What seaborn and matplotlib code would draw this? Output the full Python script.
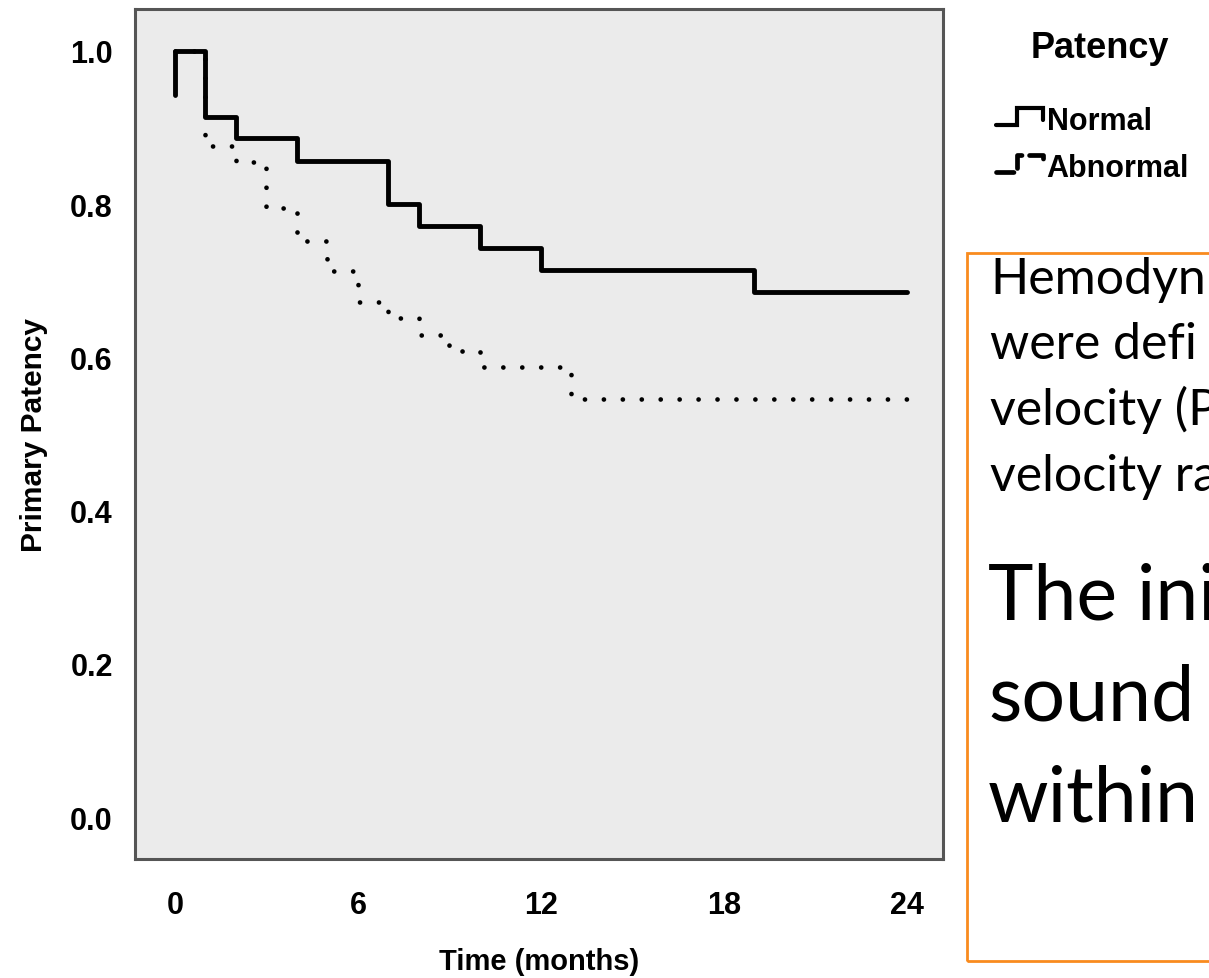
import numpy as np
import pandas as pd
import matplotlib
matplotlib.use("Agg")
import matplotlib.pyplot as plt
import seaborn as sns
from matplotlib.legend_handler import HandlerBase
from matplotlib.lines import Line2D
from matplotlib.patches import Rectangle

# Kaplan-Meier step values
normal_time = [0, 0, 1, 2, 4, 7, 8, 10, 12, 19, 24]
normal_surv = [0.943, 1.0, 0.914, 0.886, 0.857, 0.800, 0.771, 0.743, 0.714, 0.686, 0.686]

abnormal_time = [0, 1, 2, 3, 4, 5, 6, 7, 8, 9, 10, 13, 24]
abnormal_surv = [1.0, 0.876, 0.855, 0.795, 0.752, 0.713, 0.672, 0.651, 0.629, 0.608, 0.587, 0.546, 0.546]

x_ticks = [0, 6, 12, 18, 24]
y_ticks = [0.0, 0.2, 0.4, 0.6, 0.8, 1.0]
group_labels = ["Normal", "Abnormal"]

# only the part of the slide text that is visible (the rest runs off the slide)
box_lines_small = ["Hemodyn", "were defi", "velocity (P", "velocity ra"]
box_lines_big = ["The ini", "sound", "within"]

df_normal = pd.DataFrame({"time": normal_time, "surv": normal_surv})
df_abnormal = pd.DataFrame({"time": abnormal_time, "surv": abnormal_surv})

sns.set_style("white")
plt.rcParams["font.family"] = ["Liberation Sans", "DejaVu Sans"]
plt.rcParams["text.color"] = "black"
plt.rcParams["axes.labelcolor"] = "black"
plt.rcParams["xtick.color"] = "black"
plt.rcParams["ytick.color"] = "black"

W, H = 1209, 979
fig = plt.figure(figsize=(W / 100, H / 100), dpi=100)
ax = fig.add_axes([135 / W, 1 - 860 / H, (943 - 135) / W, (860 - 10) / H])
ax.set_facecolor("#EBEBEB")

dot_style = (0, (0.01, 4.0))
sns.lineplot(data=df_abnormal, x="time", y="surv", ax=ax, estimator=None, sort=False,
             drawstyle="steps-post", color="black", lw=3.4, linestyle=dot_style,
             dash_capstyle="round", zorder=2)
sns.lineplot(data=df_normal, x="time", y="surv", ax=ax, estimator=None, sort=False,
             drawstyle="steps-post", color="black", lw=3.5, zorder=3)

ax.set_xlim(-1.31, 25.18)
ax.set_ylim(-0.0548, 1.0548)
ax.set_xticks(x_ticks)
ax.set_yticks(y_ticks)
ax.set_yticklabels([f"{v:.1f}" for v in y_ticks])
ax.tick_params(axis="x", direction="out", length=12, width=2.2, color="#444444",
               labelsize=22, pad=10)
ax.tick_params(axis="y", direction="out", length=8, width=2.2, color="#444444",
               labelsize=22, pad=8)
for lab in ax.get_xticklabels() + ax.get_yticklabels():
    lab.set_fontweight("bold")
for s in ax.spines.values():
    s.set_color("#555555")
    s.set_linewidth(2.2)
ax.set_xlabel("Time (months)", fontsize=21, fontweight="bold", labelpad=20)
ax.set_ylabel("Primary Patency", fontsize=21.5, fontweight="bold", labelpad=16)


class StepHandler(HandlerBase):
    def create_artists(self, legend, orig_handle, xdescent, ydescent, width, height, fontsize, trans):
        xs = np.array([0.0, 0.42, 0.42, 0.95, 0.95]) * width - xdescent
        ys = np.array([0.2, 0.2, 1.0, 1.0, 0.45]) * height - ydescent
        ln = Line2D(xs, ys, color="black", lw=orig_handle.get_linewidth(),
                    linestyle=orig_handle.get_linestyle(), dash_capstyle="round",
                    solid_joinstyle="miter")
        ln.set_transform(trans)
        return [ln]


fig.text(1100 / W, 1 - 58 / H, "Patency", fontsize=26, fontweight="bold",
         ha="center", va="baseline")
handles = [Line2D([], [], color="black", lw=3.0),
           Line2D([], [], color="black", lw=3.4, linestyle=(0, (0.01, 2.4)))]
leg = fig.legend(handles, group_labels, loc="upper left",
                 bbox_to_anchor=(981 / W, 1 - 92 / H), frameon=False, borderpad=0,
                 handler_map={Line2D: StepHandler()}, handlelength=1.6, handletextpad=0.05,
                 labelspacing=0.55, fontsize=22)
for t in leg.get_texts():
    t.set_fontweight("bold")

# orange text box on the right, cut off by the edge of the slide
fig.patches.append(Rectangle((967 / W, 1 - 962 / H), 0.3, (962 - 254) / H,
                             transform=fig.transFigure, fill=False,
                             edgecolor="#F98B1E", lw=2.0, zorder=1))
tax = fig.add_axes([967 / W, 1 - 962 / H, 1 - 967 / W, (962 - 254) / H])
tax.axis("off")
for i, line in enumerate(box_lines_small):
    y = 294 + i * 65.5
    tax.text(990 / W, 1 - y / H, line, transform=fig.transFigure, fontsize=36,
             family="Lato", va="baseline", ha="left", clip_on=True)
for i, line in enumerate(box_lines_big):
    y = 620 + i * 101
    tax.text(988 / W, 1 - y / H, line, transform=fig.transFigure, fontsize=55.5,
             family="Lato", va="baseline", ha="left", clip_on=True)

fig.savefig("out.png", dpi=100)
